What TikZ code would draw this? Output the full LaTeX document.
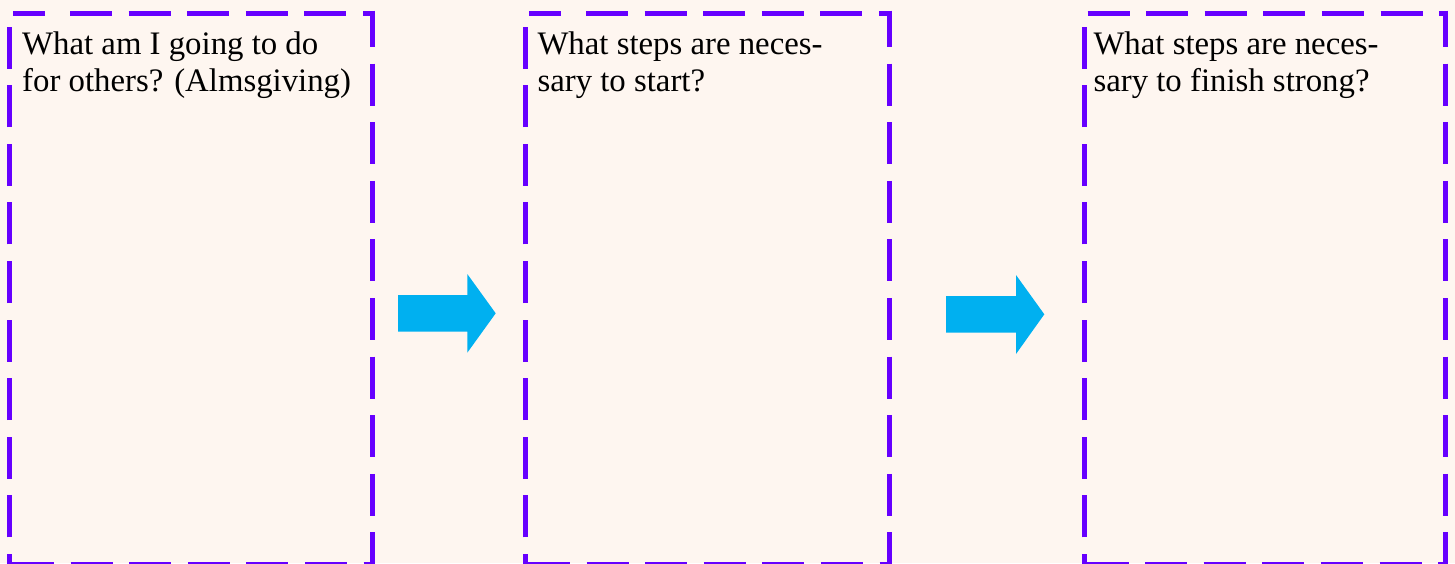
\documentclass[tikz,border=0pt]{standalone}
\usepackage{fontspec}
\setmainfont{Liberation Serif}

\definecolor{paper}{RGB}{254,246,240}
\definecolor{frame}{RGB}{102,0,255}
\definecolor{flow}{RGB}{0,176,240}

\tikzset{
  edge/.style={draw=frame, line width=5pt, line cap=butt},
  longdash/.style={dash pattern=on 42pt off 16.6pt},
  shortstart/.style={dash pattern=on 32pt off 25pt on 42pt off 16.6pt on 42pt off 16.6pt
    on 42pt off 16.6pt on 42pt off 16.6pt on 42pt off 16.6pt on 42pt off 16.6pt},
  question/.style={anchor=base west, inner sep=0pt, font=\fontsize{32.8}{36.5}\selectfont},
  blockarrow/.style={fill=flow, draw=none}
}

% Dashed frame drawn side by side: #1 left x, #2 right x, #3 dash style of the top side
\newcommand\qframe[3]{%
  \draw[edge, longdash, dash phase=29.5pt] (#1,566.5) -- (#1,13);
  \draw[edge, #3] (#1+3.5,13) -- (#2+2.5,13);
  \draw[edge, longdash, dash phase=5.5pt] (#2,10.5) -- (#2,564);
  \draw[edge, longdash] (#1+2.5,564) -- (#2+2.5,564);
}

\begin{document}
\begin{tikzpicture}[x=1pt, y=-1pt]
  \useasboundingbox (0,0) rectangle (1455,563);
  \fill[paper] (0,0) rectangle (1455,563);

  % three question frames
  \qframe{9.5}{372.5}{shortstart}
  \qframe{525.5}{889.2}{shortstart}
  \qframe{1084}{1445.5}{longdash}

  % questions
  \node[question] (q1) at (22,54.5)
    {\parbox[t]{345pt}{\raggedright What am I going to do\\for others? (Almsgiving)}};
  \node[question] (q2) at (537.3,54.5)
    {\parbox[t]{345pt}{\raggedright What steps are neces-\\sary to start?}};
  \node[question] (q3) at (1093.3,54.5)
    {\parbox[t]{345pt}{\raggedright What steps are neces-\\sary to finish strong?}};

  % block arrows between the frames
  \fill[blockarrow] (398,295) -- (467.3,295) -- (467.3,274) -- (495.7,313.3)
    -- (467.3,352.7) -- (467.3,331.7) -- (398,331.7) -- cycle;
  \fill[blockarrow] (946,296) -- (1016,296) -- (1016,275) -- (1044.3,314.3)
    -- (1016,354) -- (1016,332.7) -- (946,332.7) -- cycle;
\end{tikzpicture}
\end{document}
